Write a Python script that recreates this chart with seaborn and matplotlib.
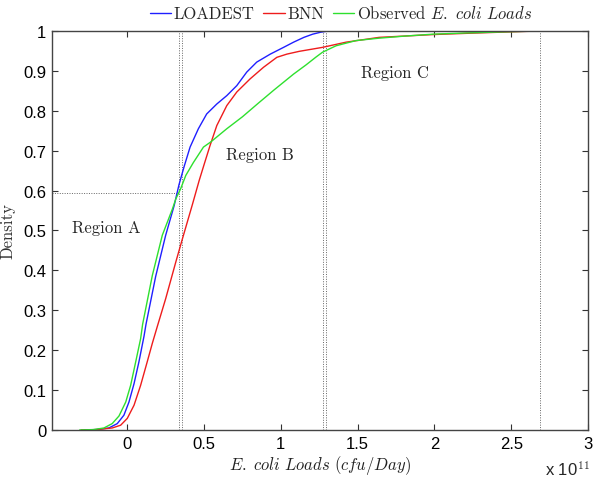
import matplotlib
matplotlib.use("Agg")
import matplotlib.pyplot as plt
import seaborn as sns
import pandas as pd

# ---- data (x in units of 1e11 cfu/Day) ----
loadest_x = [-0.28, -0.2, -0.12, -0.065, -0.022, 0.011, 0.044, 0.076, 0.109, 0.122, 0.185, 0.25,
             0.305, 0.337, 0.37, 0.409, 0.463, 0.517, 0.583, 0.648, 0.713, 0.778, 0.843, 0.931,
             1.018, 1.083, 1.15, 1.207, 1.26, 1.31, 1.37]
loadest_y = [0.0, 0.001, 0.005, 0.016, 0.037, 0.07, 0.116, 0.171, 0.235, 0.265, 0.385, 0.488,
             0.562, 0.615, 0.66, 0.709, 0.755, 0.792, 0.817, 0.838, 0.863, 0.897, 0.922, 0.942,
             0.959, 0.972, 0.984, 0.992, 0.997, 1.0, 1.0]

bnn_x = [-0.3, -0.2, -0.098, -0.043, 0.0, 0.044, 0.087, 0.13, 0.163, 0.196, 0.25, 0.316, 0.359,
         0.424, 0.468, 0.5, 0.539, 0.583, 0.648, 0.713, 0.80, 0.887, 0.974, 1.039, 1.12, 1.272,
         1.425, 1.64, 1.99, 2.2, 2.47, 2.68]
bnn_y = [0.0, 0.001, 0.005, 0.012, 0.029, 0.062, 0.112, 0.171, 0.217, 0.26, 0.329, 0.421, 0.479,
         0.565, 0.625, 0.665, 0.713, 0.763, 0.813, 0.847, 0.88, 0.909, 0.934, 0.942, 0.949, 0.959,
         0.972, 0.984, 0.991, 0.994, 0.9975, 1.0]

obs_x = [-0.31, -0.22, -0.152, -0.098, -0.054, -0.01, 0.022, 0.055, 0.087, 0.1, 0.163, 0.228,
         0.294, 0.316, 0.348, 0.381, 0.43, 0.496, 0.544, 0.648, 0.75, 0.85, 0.955, 1.083, 1.164,
         1.23, 1.272, 1.36, 1.49, 1.64, 1.8, 1.99, 2.2, 2.47, 2.68]
obs_y = [0.0, 0.001, 0.005, 0.016, 0.035, 0.07, 0.112, 0.171, 0.229, 0.265, 0.387, 0.488,
         0.554, 0.579, 0.605, 0.638, 0.67, 0.709, 0.722, 0.755, 0.785, 0.818, 0.852, 0.892, 0.915,
         0.935, 0.947, 0.963, 0.976, 0.982, 0.987, 0.992, 0.995, 0.998, 1.0]

series_names = ["LOADEST", "BNN", "Observed"]
legend_labels = ["LOADEST", "BNN", r"Observed $E.\ coli\ Loads$"]
region_labels = ["Region A", "Region B", "Region C"]
region_pos = [(-0.36, 0.509), (0.644, 0.692), (1.524, 0.897)]
vlines = [0.335, 0.355, 1.275, 1.292, 2.69]
hline_y = 0.595
hline_xmax = 0.325
xticks = [0, 0.5, 1, 1.5, 2, 2.5, 3]
xtick_labels = ["0", "0.5", "1", "1.5", "2", "2.5", "3"]
yticks = [0, 0.1, 0.2, 0.3, 0.4, 0.5, 0.6, 0.7, 0.8, 0.9, 1]
ytick_labels = ["0", "0.1", "0.2", "0.3", "0.4", "0.5", "0.6", "0.7", "0.8", "0.9", "1"]

df = pd.concat([
    pd.DataFrame({"x": loadest_x, "y": loadest_y, "s": series_names[0]}),
    pd.DataFrame({"x": bnn_x, "y": bnn_y, "s": series_names[1]}),
    pd.DataFrame({"x": obs_x, "y": obs_y, "s": series_names[2]}),
], ignore_index=True)

sns.set_style("ticks")
plt.rcParams["font.family"] = ["Liberation Sans", "DejaVu Sans"]
plt.rcParams["mathtext.fontset"] = "cm"

palette = {"LOADEST": "#1f1fff", "BNN": "#ee1c1c", "Observed": "#2ee02e"}

fig = plt.figure(figsize=(6.0, 4.81), dpi=100)
ax = fig.add_axes([0.0867, 0.104, 0.8933, 0.8295])

sns.lineplot(data=df, x="x", y="y", hue="s", palette=palette, sort=False,
             estimator=None, linewidth=1.0, ax=ax, legend=False)

for xv in vlines:
    ax.axvline(xv, color="#666666", linestyle=(0, (1, 1.5)), linewidth=0.7, zorder=1)
ax.plot([-0.49, hline_xmax], [hline_y, hline_y], color="#666666",
        linestyle=(0, (1, 1.5)), linewidth=0.7, zorder=1)

ax.set_xlim(-0.49, 3.0)
ax.set_ylim(0, 1)
ax.set_xticks(xticks)
ax.set_xticklabels(xtick_labels, fontsize=12)
ax.set_yticks(yticks)
ax.set_yticklabels(ytick_labels, fontsize=12)
ax.tick_params(direction="in", length=4, top=True, right=True, width=0.8, colors="#333333",
               labelcolor="black", pad=4)
for sp in ax.spines.values():
    sp.set_color("#444444")
    sp.set_linewidth(1.0)

for lab, (tx, ty) in zip(region_labels, region_pos):
    ax.text(tx, ty, lab, fontfamily="cmr10", fontsize=12, va="center", ha="left")

ax.set_xlabel(r"$E.\ coli\ Loads\ (cfu/Day)$", fontsize=12, labelpad=2, color="#222222")
ax.set_ylabel("Density", fontfamily="cmr10", fontsize=12, labelpad=6, color="#333333")
fig.text(0.908, 0.004, r"x 10$^{11}$", fontsize=12, ha="left", va="bottom",
         fontfamily="Liberation Sans")

handles = [plt.Line2D([], [], color=palette[s], linewidth=1.0) for s in series_names]
leg = fig.legend(handles, legend_labels, loc="center", bbox_to_anchor=(0.568, 0.971),
                 ncol=3, frameon=False, handlelength=1.3, handletextpad=0.15,
                 columnspacing=0.5, prop={"family": "cmr10", "size": 12})

fig.savefig("out.png", dpi=100)
